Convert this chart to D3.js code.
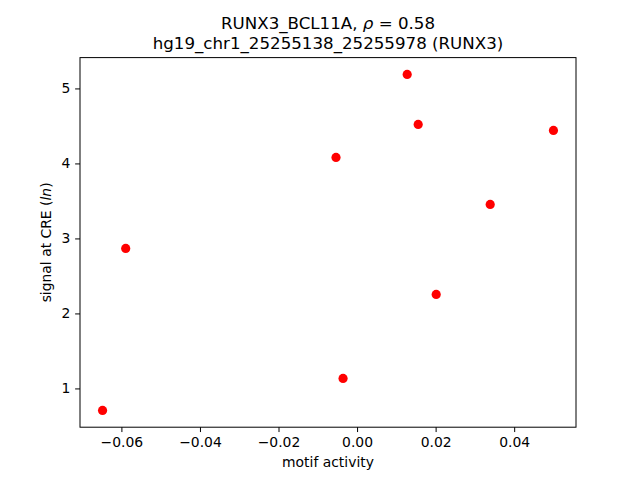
<!DOCTYPE html>
<html>
<head>
<meta charset="utf-8">
<script src="https://cdn.jsdelivr.net/npm/d3@7"></script>
<style>
body { margin: 0; background: #fff; }
text { font-family: "DejaVu Sans", sans-serif; }
</style>
</head>
<body>
<svg id="chart" width="640" height="480"></svg>
<script>
const motifActivity = [-0.0648, -0.0589, -0.00536, -0.00357, 0.01276, 0.01556, 0.02015, 0.0339, 0.0500];
const signalLn = [0.707, 2.867, 4.08, 1.133, 5.187, 4.52, 2.253, 3.453, 4.44];
const xTicks = [-0.06, -0.04, -0.02, 0.00, 0.02, 0.04];
const yTicks = [1, 2, 3, 4, 5];
const titleLine1 = "RUNX3_BCL11A, ";
const rhoValue = "0.58";
const titleLine2 = "hg19_chr1_25255138_25255978 (RUNX3)";

const svg = d3.select("#chart");
const plotLeft = 80, plotRight = 576, plotTop = 57.6, plotBottom = 427.2;

const xMin = d3.min(motifActivity), xMax = d3.max(motifActivity);
const yMin = d3.min(signalLn), yMax = d3.max(signalLn);
const xPad = (xMax - xMin) * 0.05, yPad = (yMax - yMin) * 0.05;
const x = d3.scaleLinear().domain([xMin - xPad, xMax + xPad]).range([plotLeft, plotRight]);
const y = d3.scaleLinear().domain([yMin - yPad, yMax + yPad]).range([plotBottom, plotTop]);

const fmtX = d => (d < 0 ? "\u2212" : "") + Math.abs(d).toFixed(2);

const xAxis = svg.append("g").attr("transform", `translate(0,${plotBottom})`)
  .call(d3.axisBottom(x).tickValues(xTicks).tickFormat(fmtX).tickSize(4.86).tickPadding(4.86));
const yAxis = svg.append("g").attr("transform", `translate(${plotLeft},0)`)
  .call(d3.axisLeft(y).tickValues(yTicks).tickFormat(d3.format("d")).tickSize(4.86).tickPadding(4.86));
[xAxis, yAxis].forEach(a => {
  a.select(".domain").remove();
  a.selectAll("text").attr("font-size", "13.9px").attr("fill", "#000").style("font-family", "DejaVu Sans");
  a.selectAll("line").attr("stroke", "#000").attr("stroke-width", 1);
});

svg.append("rect").attr("x", plotLeft).attr("y", plotTop).attr("width", plotRight - plotLeft).attr("height", plotBottom - plotTop)
  .attr("fill", "none").attr("stroke", "#000").attr("stroke-width", 1);

svg.append("g").selectAll("circle").data(motifActivity.map((v, i) => [v, signalLn[i]]))
  .join("circle")
  .attr("cx", d => x(d[0])).attr("cy", d => y(d[1])).attr("r", 4.6)
  .attr("fill", "#ff0000");

const t1 = svg.append("text").attr("x", 328).attr("y", 29).attr("text-anchor", "middle").attr("font-size", "16.67px");
t1.append("tspan").text(titleLine1);
t1.append("tspan").attr("font-style", "italic").text("\u03c1");
t1.append("tspan").text(" = " + rhoValue);
svg.append("text").attr("x", 328).attr("y", 49).attr("text-anchor", "middle").attr("font-size", "16.67px").text(titleLine2);

svg.append("text").attr("x", 328).attr("y", 467).attr("text-anchor", "middle").attr("font-size", "13.9px").text("motif activity");
const yl = svg.append("text").attr("transform", "translate(51,242.4) rotate(-90)").attr("text-anchor", "middle").attr("font-size", "13.9px");
yl.append("tspan").text("signal at CRE (");
yl.append("tspan").attr("font-style", "italic").text("ln");
yl.append("tspan").text(")");
</script>
</body>
</html>
